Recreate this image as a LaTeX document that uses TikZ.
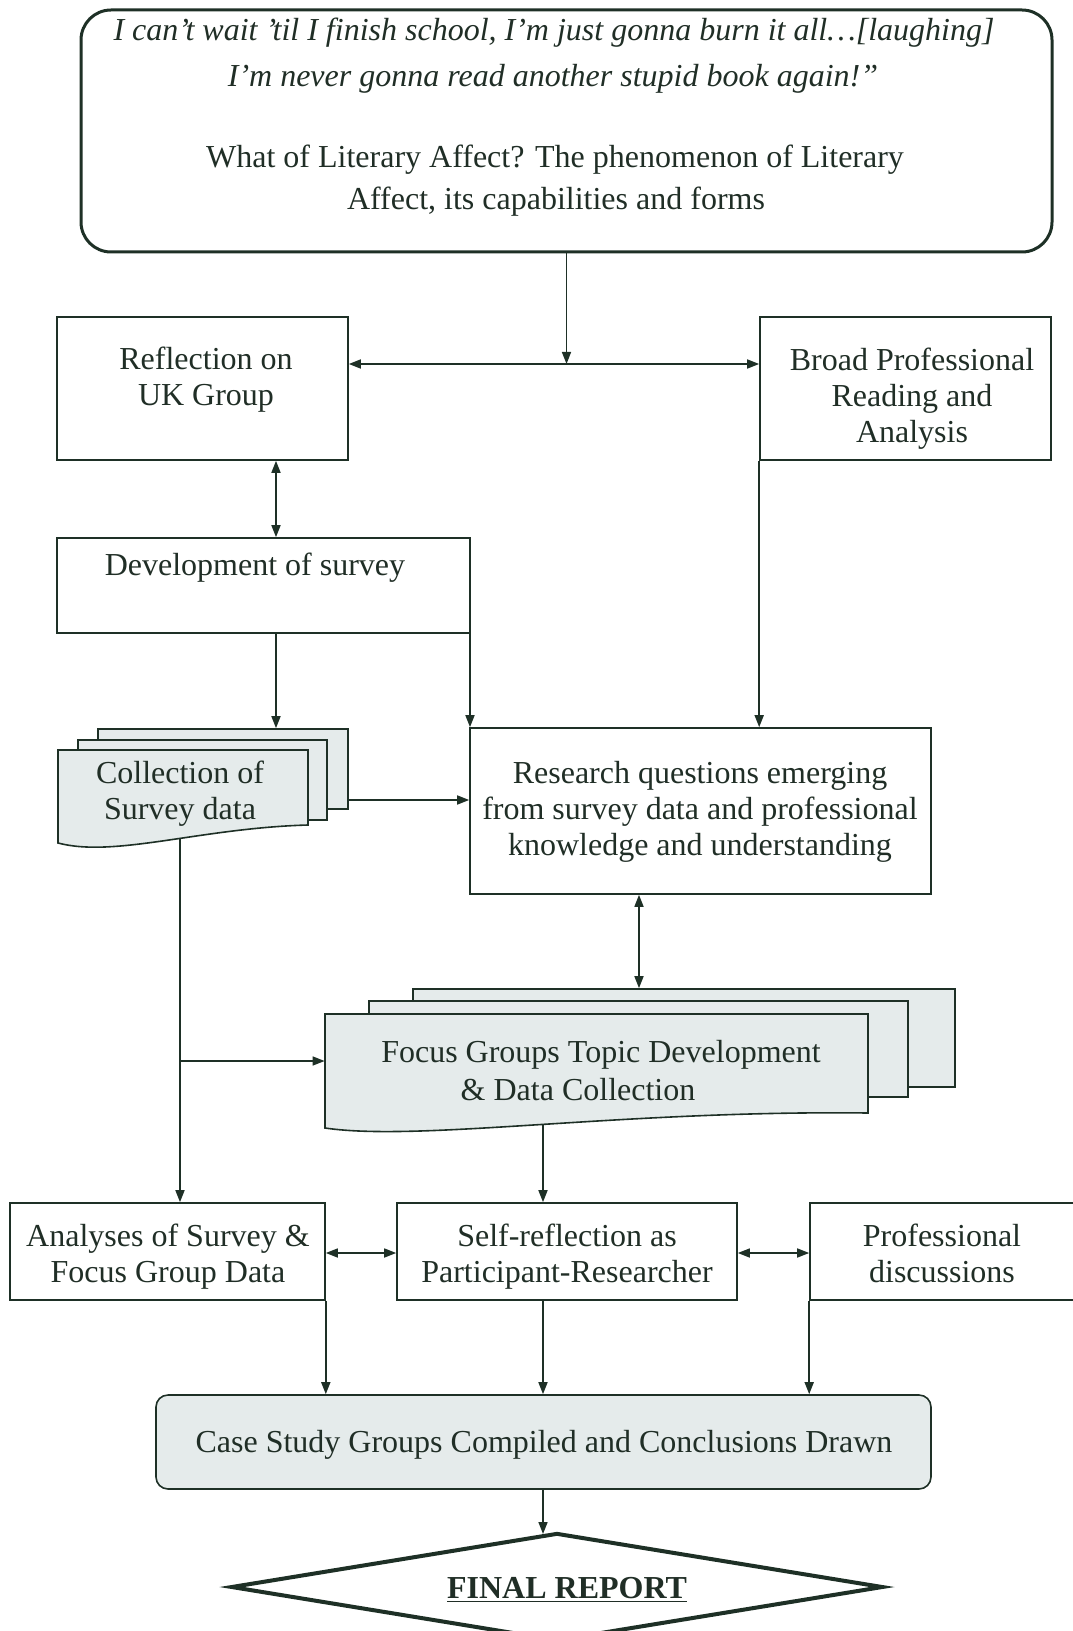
\documentclass[tikz,border=0pt]{standalone}
\usepackage{fontspec}
\setmainfont{Liberation Serif}
\usetikzlibrary{arrows.meta,shapes.geometric,calc}
\definecolor{lc}{RGB}{30,48,38}
\definecolor{tc}{RGB}{32,46,38}
\definecolor{fc}{RGB}{229,235,235}
\begin{document}
\begin{tikzpicture}[x=0.5pt,y=-0.5pt,
  font=\fontsize{16}{18}\selectfont, text=tc,
  box/.style={draw=lc, line width=0.8pt, rectangle, inner sep=0pt},
  doc/.style={box, fill=fc},
  txt/.style={align=center, inner sep=0pt, text=tc},
  tip/.tip={Triangle[length=6pt,width=4.5pt]},
  arr/.style={draw=lc, line width=0.8pt, -tip},
  darr/.style={draw=lc, line width=0.8pt, tip-tip}]
\useasboundingbox (0,0) rectangle (1072,1631);

% top box
\node[box, line width=1.5pt, rounded corners=15pt, minimum width=485.5pt, minimum height=121pt] (top) at (566.5,131) {};
\node[txt, font=\fontsize{16}{18}\selectfont\itshape] (q1) at (554,33) {I can’t wait ’til I finish school, I’m just gonna burn it all…[laughing]};
\node[txt, font=\fontsize{16}{18}\selectfont\itshape] (q2) at (553,79) {I’m never gonna read another stupid book again!”};
\node[txt] (q3) at (555,160) {What of Literary Affect? The phenomenon of Literary};
\node[txt] (q4) at (556,202) {Affect, its capabilities and forms};

% second row
\node[box, minimum width=145.5pt, minimum height=71.5pt] (refl) at (202.5,388.5) {};
\node[txt] (reflT) at (206,380) {Reflection on\\UK Group};
\node[box, minimum width=145.5pt, minimum height=71.5pt] (broad) at (905.5,388.5) {};
\node[txt] (broadT) at (912,399) {Broad Professional\\Reading and\\Analysis};

% development
\node[box, minimum width=206.5pt, minimum height=47.5pt] (dev) at (263.5,585.5) {};
\node[txt] (devT) at (255,568) {Development of survey};

% research
\node[box, minimum width=230.5pt, minimum height=83pt] (res) at (700.5,811) {};
\node[txt] (resT) at (700,812) {Research questions emerging\\from survey data and professional\\knowledge and understanding};

% collection multi-document
\node[doc, minimum width=125pt, minimum height=40pt] (collB) at (223,769) {};
\node[doc, minimum width=124.5pt, minimum height=40pt] (collM) at (202.5,780) {};
\node[inner sep=0pt, minimum width=125pt, minimum height=46.5pt] (coll) at (183,796.5) {};
\draw[lc, fill=fc, line width=0.8pt] (58,750) -- (308,750) -- (308,825)
  .. controls (200,828) and (115,858) .. (58,843) -- cycle;
\node[txt] (collT) at (180,794) {Collection of\\Survey data};

% focus groups multi-document
\node[doc, minimum width=271pt, minimum height=49pt] (focusB) at (684,1038) {};
\node[doc, minimum width=269.5pt, minimum height=48pt] (focusM) at (638.5,1049) {};
\node[inner sep=0pt, minimum width=271.5pt, minimum height=57pt] (focus) at (596.5,1071) {};
\draw[lc, fill=fc, line width=0.8pt] (325,1014) -- (868,1014) -- (868,1113)
  .. controls (620,1110) and (420,1142) .. (325,1128) -- cycle;
\node[txt] (focusT) at (601,1071) {Focus Groups Topic Development\\[1pt]\hspace*{-23pt}\& Data Collection};

% bottom row
\node[box, minimum width=157.5pt, minimum height=48.5pt] (ana) at (167.5,1251.5) {};
\node[txt] (anaT) at (168,1257) {Analyses of Survey \&\\Focus Group Data};
\node[box, minimum width=170pt, minimum height=48.5pt] (self) at (567,1251.5) {};
\node[txt] (selfT) at (567,1257) {Self-reflection as\\Participant-Researcher};
\node[box, minimum width=137.5pt, minimum height=48.5pt] (prof) at (947.5,1251.5) {};
\node[txt] (profT) at (942,1253) {Professional\\discussions};

% case study
\node[doc, rounded corners=6pt, minimum width=387.5pt, minimum height=47pt] (case) at (543.5,1442) {};
\node[txt] (caseT) at (544,1445) {Case Study Groups Compiled and Conclusions Drawn};

% final report
\node[draw=lc, line width=2pt, diamond, inner sep=0pt, minimum width=326pt, minimum height=54pt] (fin) at (557,1587) {};
\node[txt, font=\fontsize{16}{18}\selectfont\bfseries] (finT) at (567,1590) {\underline{FINAL REPORT}};

% connectors
\coordinate (j) at (566.5,364);
\draw[arr] (top.south) -- (j);
\draw[darr] (refl.east |- j) -- (broad.west |- j);
\coordinate (x276) at (276,0);
\draw[darr] (refl.south -| x276) -- (dev.north -| x276);
\draw[arr] (dev.south -| x276) -- (collB.north -| x276);
\coordinate (x470) at (470,0);
\draw[arr] (dev.south -| x470) -- (res.north -| x470);
\draw[arr] (broad.south west) -- (broad.south west |- res.north);
\coordinate (y800) at (0,800);
\draw[arr] (collB.east |- y800) -- (res.west |- y800);
\coordinate (cb) at (180,839);
\draw[arr] (cb) -- (cb |- ana.north);
\coordinate (br) at (180,1061);
\draw[arr] (br) -- (focus.west |- br);
\coordinate (x639) at (639,0);
\draw[darr] (res.south -| x639) -- (focusB.north -| x639);
\coordinate (fb) at (543,1125);
\draw[arr] (fb) -- (fb |- self.north);
\coordinate (y1253) at (0,1253);
\draw[darr] (ana.east |- y1253) -- (self.west |- y1253);
\draw[darr] (self.east |- y1253) -- (prof.west |- y1253);
\draw[arr] (ana.south east) -- (ana.south east |- case.north);
\draw[arr] (self.south -| fb) -- (case.north -| fb);
\draw[arr] (prof.south west) -- (prof.south west |- case.north);
\coordinate (dtop) at (543,1534);
\draw[arr] (case.south -| fb) -- (dtop);
\end{tikzpicture}
\end{document}
